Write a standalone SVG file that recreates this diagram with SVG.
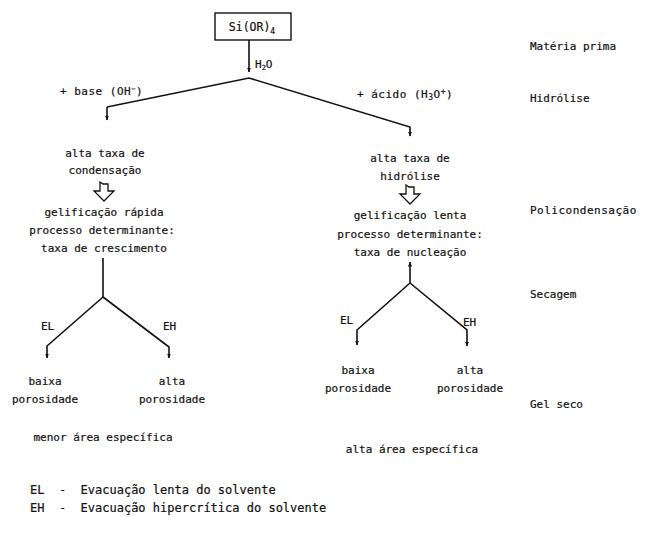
<svg xmlns="http://www.w3.org/2000/svg" width="649" height="533" viewBox="0 0 649 533">
<defs>
<marker id="ah" viewBox="0 0 10 10" refX="9" refY="5" markerWidth="5" markerHeight="5" orient="auto-start-reverse" markerUnits="userSpaceOnUse">
<path d="M0,1 L10,5 L0,9 z" fill="#111"/>
</marker>
<style>
text{font-family:"DejaVu Sans Mono","Liberation Mono",monospace;font-size:11px;fill:#111;stroke:#111;stroke-width:0.2}
.c{text-anchor:middle}
.ln{fill:none;stroke:#111;stroke-width:1.6}
.ho{fill:#fff;stroke:#111;stroke-width:1.3}
.lg{font-size:12px}
</style>
</defs>
<rect width="649" height="533" fill="#fff"/>
<g id="connectors">
<path class="ln" d="M249,40 V72" marker-end="url(#ah)"/>
<path class="ln" d="M107,107 L249,78 L410,127 V136" marker-end="url(#ah)"/>
<path class="ln" d="M107,107 V120" marker-end="url(#ah)"/>
<path class="ho" d="M100,182 L103,184 H108 V191 H114 L104,201 L94,191 H100 Z"/>
<path class="ho" d="M406,185 L409,187 H414 V194 H420 L410,204 L400,194 H406 Z"/>
<path class="ln" d="M103,258 V297"/>
<path class="ln" d="M103,297 L47,346 V358" marker-end="url(#ah)"/>
<path class="ln" d="M103,297 L169,347 V358" marker-end="url(#ah)"/>
<path class="ln" d="M410,283 V262" marker-end="url(#ah)"/>
<path class="ln" d="M410,283 L357,330 V345" marker-end="url(#ah)"/>
<path class="ln" d="M410,283 L467,330 V346" marker-end="url(#ah)"/>
</g>
<g id="n-si">
<rect x="215" y="13" width="76" height="27" fill="#fff" stroke="#111" stroke-width="1.4"/>
<text class="c" x="252" y="31" style="font-size:11.5px">Si(OR)<tspan font-size="8" dy="3">4</tspan></text>
</g>
<g id="n-h2o"><text x="255" y="68">H<tspan font-size="7" dy="2">2</tspan><tspan dy="-2">O</tspan></text></g>
<g id="n-base"><text x="60" y="95" style="letter-spacing:0.5px">+ base (OH<tspan font-size="7" dy="-4">−</tspan><tspan dy="4">)</tspan></text></g>
<g id="n-acido"><text x="357" y="98" style="letter-spacing:0.5px">+ ácido (H<tspan font-size="8" dy="2">3</tspan><tspan dy="-2">O</tspan><tspan font-size="8" dy="-4">+</tspan><tspan dy="4">)</tspan></text></g>
<g id="n-cond">
<text class="c" x="105" y="157">alta taxa de</text>
<text class="c" x="105" y="174">condensação</text>
</g>
<g id="n-hidr">
<text class="c" x="410" y="162">alta taxa de</text>
<text class="c" x="410" y="180">hidrólise</text>
</g>
<g id="n-rapida">
<text class="c" x="104" y="216">gelificação rápida</text>
<text class="c" x="102" y="234">processo determinante:</text>
<text class="c" x="104" y="252">taxa de crescimento</text>
</g>
<g id="n-lenta">
<text class="c" x="410" y="219">gelificação lenta</text>
<text class="c" x="410" y="238">processo determinante:</text>
<text class="c" x="410" y="256">taxa de nucleação</text>
</g>
<g id="n-el1"><text x="41" y="330">EL</text></g>
<g id="n-eh1"><text x="163" y="330">EH</text></g>
<g id="n-el2"><text x="340" y="324">EL</text></g>
<g id="n-eh2"><text x="463" y="326">EH</text></g>
<g id="n-baixa1">
<text class="c" x="45" y="385">baixa</text>
<text class="c" x="45" y="403">porosidade</text>
</g>
<g id="n-alta1">
<text class="c" x="172" y="385">alta</text>
<text class="c" x="172" y="403">porosidade</text>
</g>
<g id="n-baixa2">
<text class="c" x="358" y="374">baixa</text>
<text class="c" x="358" y="392">porosidade</text>
</g>
<g id="n-alta2">
<text class="c" x="470" y="374">alta</text>
<text class="c" x="470" y="392">porosidade</text>
</g>
<g id="n-menor"><text class="c" x="103" y="441">menor área específica</text></g>
<g id="n-altaarea"><text class="c" x="412" y="453">alta área específica</text></g>
<g id="stages">
<text x="530" y="50">Matéria prima</text>
<text x="530" y="102">Hidrólise</text>
<text x="530" y="214" style="letter-spacing:0.5px">Policondensação</text>
<text x="530" y="298">Secagem</text>
<text x="530" y="408">Gel seco</text>
</g>
<g id="legend">
<text class="lg" x="30" y="494" xml:space="preserve">EL  -  Evacuação lenta do solvente</text>
<text class="lg" x="30" y="512" xml:space="preserve">EH  -  Evacuação hipercrítica do solvente</text>
</g>
</svg>
